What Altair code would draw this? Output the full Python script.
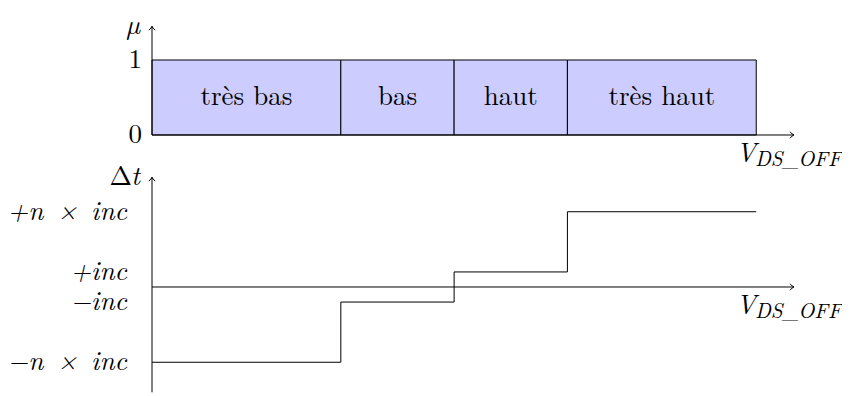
import altair as alt
import pandas as pd

# ---------------- data ----------------
# top panel: fuzzy sets (membership mu)
set_names = ["très bas", "bas", "haut", "très haut"]
set_start = [0, 5, 8, 11]
set_end = [5, 8, 11, 16]
mu_low = [0, 0, 0, 0]
mu_high = [1, 1, 1, 1]
mu_ticks = [0, 1]
mu_tick_labels = ["0", "1"]

# bottom panel: step output delta t
step_x = [0, 5, 8, 11, 16]
step_dt = [-5, -1, 1, 5, 5]
dt_ticks = [5, 1, -1, -5]
dt_tick_labels = ["+n\u2002×\u2002inc", "+inc", "−inc", "−n\u2002×\u2002inc"]

x_axis_end = 17
mu_axis_end = 1.45
dt_axis_min, dt_axis_max = -7.0, 7.3

# ---------------- styling ----------------
FONT = "Latin Modern Roman"
FS = 27
W, H = 642, 386
x_scale = alt.Scale(domain=[0, x_axis_end], nice=False, zero=False)
mu_scale = alt.Scale(domain=[-3.4533, 1.6933], nice=False, zero=False)
dt_scale = alt.Scale(domain=[-7.1096, 18.538], nice=False, zero=False)
ARROW = "M -1 -0.8 Q -0.4 -0.1 0 0 Q -0.4 0.1 -1 0.8"

one = pd.DataFrame({"k": [0]})

sets_df = pd.DataFrame({"name": set_names, "x0": set_start, "x1": set_end,
                        "y0": mu_low, "y1": mu_high})
mu_tick_df = pd.DataFrame({"v": mu_ticks, "lab": mu_tick_labels})
step_df = pd.DataFrame({"x": step_x, "y": step_dt})
dt_tick_df = pd.DataFrame({"v": dt_ticks, "lab": dt_tick_labels})


def X(field=None, datum=None):
    if field is not None:
        return alt.X(field, type="quantitative", scale=x_scale, axis=None)
    return alt.X(datum=datum, type="quantitative", scale=x_scale, axis=None)


def Y(scale, field=None, datum=None):
    if field is not None:
        return alt.Y(field, type="quantitative", scale=scale, axis=None)
    return alt.Y(datum=datum, type="quantitative", scale=scale, axis=None)


def panel(yscale, y_lo, y_hi, ylabel_parts):
    # axis lines
    xaxis = alt.Chart(one).mark_rule(color="black", strokeWidth=1).encode(
        x=X(datum=0), x2=alt.X2(datum=x_axis_end), y=Y(yscale, datum=0))
    yaxis = alt.Chart(one).mark_rule(color="black", strokeWidth=1).encode(
        x=X(datum=0), y=Y(yscale, datum=y_lo), y2=alt.Y2(datum=y_hi))
    xarrow = alt.Chart(one).mark_point(shape=ARROW, filled=False, size=64,
                                       color="black", strokeWidth=1, opacity=1).encode(
        x=X(datum=x_axis_end), y=Y(yscale, datum=0))
    yarrow = alt.Chart(one).mark_point(shape=ARROW, filled=False, size=64, angle=270,
                                       color="black", strokeWidth=1, opacity=1).encode(
        x=X(datum=0), y=Y(yscale, datum=y_hi))
    xlab_v = alt.Chart(one).mark_text(font=FONT, fontSize=FS, fontStyle="italic",
                                      align="right", baseline="alphabetic",
                                      dx=-38, dy=27, color="black").encode(
        x=X(datum=x_axis_end), y=Y(yscale, datum=0), text=alt.value("V"))
    xlab_sub = alt.Chart(one).mark_text(font=FONT, fontSize=21, fontStyle="italic",
                                        align="left", baseline="alphabetic",
                                        dx=-39, dy=31, color="black").encode(
        x=X(datum=x_axis_end), y=Y(yscale, datum=0), text=alt.value("DS_OFF"))
    ylabs = []
    for txt, style, dx in ylabel_parts:
        ylabs.append(alt.Chart(one).mark_text(font=FONT, fontSize=FS, fontStyle=style,
                                              align="right", baseline="middle",
                                              dx=dx, color="black").encode(
            x=X(datum=0), y=Y(yscale, datum=y_hi), text=alt.value(txt)))
    return [xaxis, yaxis, xarrow, yarrow, xlab_v, xlab_sub] + ylabs


# ---------------- top panel ----------------
rects = alt.Chart(sets_df).mark_rect(fill="#ccccff", stroke="black", strokeWidth=1).encode(
    x=X("x0"), x2="x1", y=Y(mu_scale, "y0"), y2="y1")
rect_text = alt.Chart(sets_df).transform_calculate(
    xc="(datum.x0 + datum.x1) / 2", yc="(datum.y0 + datum.y1) / 2"
).mark_text(font=FONT, fontSize=FS, color="black", baseline="middle").encode(
    x=X("xc"), y=Y(mu_scale, "yc"), text="name:N")
mu_tick_text = alt.Chart(mu_tick_df).mark_text(font=FONT, fontSize=FS, color="black",
                                               align="right", baseline="middle", dx=-10).encode(
    x=X(datum=0), y=Y(mu_scale, "v"), text="lab:N")

top = alt.layer(rects, rect_text, mu_tick_text,
                *panel(mu_scale, 0, mu_axis_end, [("\u00b5", "italic", -12)]))

# ---------------- bottom panel ----------------
steps = alt.Chart(step_df).mark_line(interpolate="step-after", color="black",
                                     strokeWidth=1).encode(
    x=X("x"), y=Y(dt_scale, "y"))
dt_tick_text = alt.Chart(dt_tick_df).mark_text(font=FONT, fontSize=FS, fontStyle="italic",
                                               color="black", align="right",
                                               baseline="middle", dx=-25).encode(
    x=X(datum=0), y=Y(dt_scale, "v"), text="lab:N")

bottom = alt.layer(steps, dt_tick_text,
                   *panel(dt_scale, dt_axis_min, dt_axis_max,
                          [("t", "italic", -12), ("Δ", "normal", -20)]))

chart = alt.layer(top, bottom).resolve_scale(y="independent").properties(
    width=W, height=H,
    autosize=alt.AutoSizeParams(type="none"),
    padding={"left": 144, "top": 0, "right": 48, "bottom": 0},
    background="white",
).configure_view(stroke=None)

chart.save("out.html", embed_options={"renderer": "svg", "actions": False})
